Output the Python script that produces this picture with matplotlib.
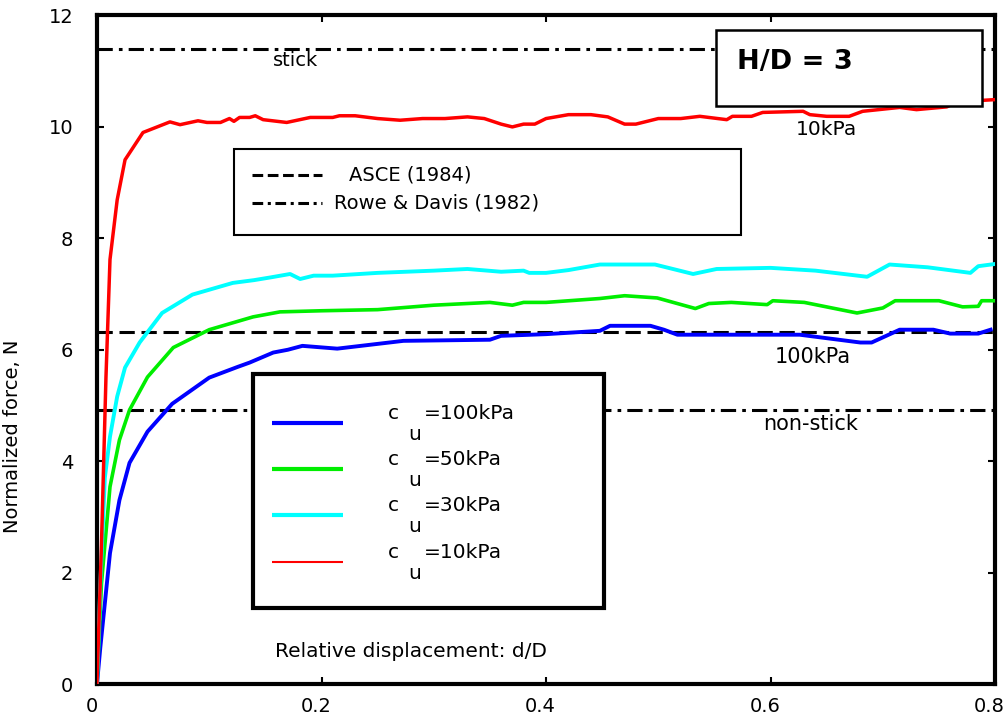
import numpy as np
import matplotlib
matplotlib.use("Agg")
import matplotlib.pyplot as plt
import matplotlib.transforms as mtransforms
from matplotlib.patches import Rectangle

# curves: relative displacement d/D vs normalized force N
x_10 = [0, 0.004, 0.008, 0.0116, 0.018, 0.025, 0.041, 0.065, 0.074, 0.09, 0.098, 0.11,
        0.118, 0.122, 0.127, 0.136, 0.141, 0.148, 0.169, 0.19, 0.21, 0.216, 0.23, 0.25,
        0.27, 0.29, 0.31, 0.33, 0.345, 0.36, 0.37, 0.38, 0.39, 0.40, 0.42, 0.44, 0.455,
        0.47, 0.48, 0.49, 0.50, 0.52, 0.537, 0.561, 0.566, 0.583, 0.593, 0.629, 0.635,
        0.65, 0.67, 0.682, 0.715, 0.73, 0.757, 0.766, 0.8]
n_10 = [0, 2.5, 5.5, 7.62, 8.69, 9.41, 9.9, 10.09, 10.04, 10.11, 10.08, 10.08,
        10.15, 10.1, 10.17, 10.17, 10.2, 10.13, 10.08, 10.17, 10.17, 10.2, 10.2, 10.15,
        10.12, 10.15, 10.15, 10.18, 10.15, 10.05, 10.0, 10.05, 10.05, 10.15, 10.22, 10.22, 10.18,
        10.05, 10.05, 10.1, 10.15, 10.15, 10.19, 10.13, 10.19, 10.19, 10.26, 10.28, 10.22,
        10.19, 10.19, 10.28, 10.35, 10.31, 10.36, 10.45, 10.49]

x_30 = [0, 0.003, 0.007, 0.0116, 0.018, 0.025, 0.038, 0.058, 0.085, 0.121, 0.14, 0.155,
        0.172, 0.181, 0.193, 0.21, 0.25, 0.3, 0.33, 0.36, 0.38, 0.385, 0.4, 0.42, 0.448,
        0.497, 0.531, 0.552, 0.6, 0.64, 0.686, 0.706, 0.74, 0.778, 0.785, 0.8]
n_30 = [0, 1.8, 3.7, 4.44, 5.16, 5.68, 6.13, 6.66, 6.99, 7.2, 7.25, 7.3,
        7.36, 7.27, 7.33, 7.33, 7.38, 7.42, 7.45, 7.4, 7.42, 7.38, 7.38, 7.43, 7.53,
        7.53, 7.36, 7.45, 7.47, 7.42, 7.31, 7.53, 7.48, 7.38, 7.5, 7.54]

x_50 = [0, 0.004, 0.0116, 0.02, 0.029, 0.045, 0.068, 0.1, 0.139, 0.163, 0.2, 0.25, 0.3,
        0.35, 0.37, 0.38, 0.4, 0.448, 0.47, 0.499, 0.533, 0.545, 0.565, 0.597, 0.602,
        0.63, 0.677, 0.7, 0.711, 0.75, 0.771, 0.785, 0.788, 0.8]
n_50 = [0, 1.8, 3.54, 4.38, 4.92, 5.51, 6.04, 6.36, 6.59, 6.68, 6.7, 6.72, 6.8,
        6.85, 6.8, 6.85, 6.85, 6.92, 6.97, 6.93, 6.74, 6.83, 6.85, 6.81, 6.88,
        6.85, 6.66, 6.75, 6.88, 6.88, 6.77, 6.78, 6.88, 6.88]

x_100 = [0, 0.003, 0.0116, 0.02, 0.029, 0.045, 0.067, 0.1, 0.125, 0.136, 0.157, 0.17,
         0.183, 0.214, 0.273, 0.35, 0.36, 0.4, 0.448, 0.457, 0.493, 0.505, 0.517, 0.626,
         0.68, 0.69, 0.715, 0.745, 0.76, 0.785, 0.796]
n_100 = [0, 0.66, 2.35, 3.3, 3.97, 4.53, 5.03, 5.5, 5.69, 5.77, 5.95, 6.0,
         6.07, 6.02, 6.16, 6.18, 6.25, 6.28, 6.34, 6.43, 6.43, 6.36, 6.27, 6.27,
         6.13, 6.13, 6.36, 6.36, 6.29, 6.29, 6.36]

# reference solutions
n_stick = 11.39
n_nonstick = 4.92
n_asce = 6.31

labels = ["=100kPa", "=50kPa", "=30kPa", "=10kPa"]
colors = ["#0000ff", "#00ee00", "#00ffff", "#ff0000"]

plt.rcParams['font.family'] = ['DejaVu Sans']

fig = plt.figure(figsize=(10.08, 7.27), dpi=100)
ax = fig.add_axes([0.0962, 0.0591, 0.891, 0.9196])

# curves
ax.plot(x_100, n_100, color=colors[0], lw=2.8, zorder=3)
ax.plot(x_50, n_50, color=colors[1], lw=2.6, zorder=3)
ax.plot(x_30, n_30, color=colors[2], lw=2.8, zorder=3)
ax.plot(x_10, n_10, color=colors[3], lw=2.5, zorder=3)

# horizontal reference lines
dashdot = (0, (5, 2, 1.2, 2))
ax.axhline(n_stick, color="k", lw=2.2, ls=dashdot, zorder=2)
ax.axhline(n_nonstick, color="k", lw=2.2, ls=dashdot, zorder=2)
ax.axhline(n_asce, color="k", lw=2.2, ls=(0, (5, 2.2)), zorder=2)

ax.text(0.177, 11.2, "stick", fontsize=14, ha="center", va="center")
ax.text(0.65, 9.95, "10kPa", fontsize=14.5, ha="center", va="center")
ax.text(0.638, 5.87, "100kPa", fontsize=15, ha="center", va="center")
ax.text(0.636, 4.67, "non-stick", fontsize=15, ha="center", va="center")
ax.text(0.28, 0.59, "Relative displacement: d/D", fontsize=14.5, ha="center", va="center")

# upper legend (reference lines)
ax.add_patch(Rectangle((0.1526, 0.671), 0.565, 0.130, transform=ax.transAxes,
                       facecolor="white", edgecolor="k", lw=1.5, zorder=5))
ax.plot([0.173, 0.250], [0.762, 0.762], transform=ax.transAxes, color="k",
        lw=2.2, ls=(0, (3.5, 1.5)), zorder=6)
ax.plot([0.173, 0.250], [0.720, 0.720], transform=ax.transAxes, color="k",
        lw=2.2, ls=(0, (3.5, 1.5, 1, 1.5)), zorder=6)
ax.text(0.281, 0.762, "ASCE (1984)", transform=ax.transAxes, fontsize=14,
        va="center", zorder=6)
ax.text(0.264, 0.720, "Rowe & Davis (1982)", transform=ax.transAxes, fontsize=14,
        va="center", zorder=6)

# H/D box
ax.add_patch(Rectangle((0.689, 0.864), 0.2965, 0.115, transform=ax.transAxes,
                       facecolor="white", edgecolor="k", lw=1.8, zorder=5))
ax.text(0.713, 0.931, "H/D = 3", transform=ax.transAxes, fontsize=19.5,
        fontweight="bold", va="center", zorder=6)

# lower legend (cu curves)
ax.add_patch(Rectangle((0.174, 0.114), 0.391, 0.350, transform=ax.transAxes,
                       facecolor="white", edgecolor="k", lw=3, zorder=5))
leg_y = [0.391, 0.322, 0.253, 0.183]
leg_lw = [3, 3, 3, 1.5]
for yy, lab, col, w in zip(leg_y, labels, colors, leg_lw):
    ax.plot([0.195, 0.274], [yy, yy], transform=ax.transAxes, color=col, lw=w,
            solid_capstyle="butt", zorder=6)
    ax.text(0.324, yy + 0.006, "c", transform=ax.transAxes, fontsize=14.5,
            va="baseline", zorder=6)
    ax.text(0.347, yy - 0.0255, "u", transform=ax.transAxes, fontsize=14.5,
            va="baseline", zorder=6)
    ax.text(0.364, yy + 0.006, lab, transform=ax.transAxes, fontsize=14.5,
            va="baseline", zorder=6)

# axes styling
ax.set_xlim(0, 0.8)
ax.set_ylim(0, 12)
ax.set_xticks([0, 0.2, 0.4, 0.6, 0.8])
ax.set_xticklabels(["0", "0.2", "0.4", "0.6", "0.8"])
ax.set_yticks([0, 2, 4, 6, 8, 10, 12])
ax.tick_params(direction="in", length=5, width=1.5, top=True, right=True,
               labelsize=14)
ax.tick_params(axis="x", pad=9)
ax.tick_params(axis="y", pad=17)
# labels in the reference sit a touch left of their ticks
shift = mtransforms.ScaledTranslation(-4 / 72, 0, fig.dpi_scale_trans)
for lbl in ax.get_xticklabels():
    lbl.set_transform(lbl.get_transform() + shift)
for sp in ax.spines.values():
    sp.set_linewidth(3)
ax.set_ylabel("Normalized force, N", fontsize=14)
ax.yaxis.set_label_coords(-0.083, 0.37)

fig.savefig("out.png", dpi=100)
